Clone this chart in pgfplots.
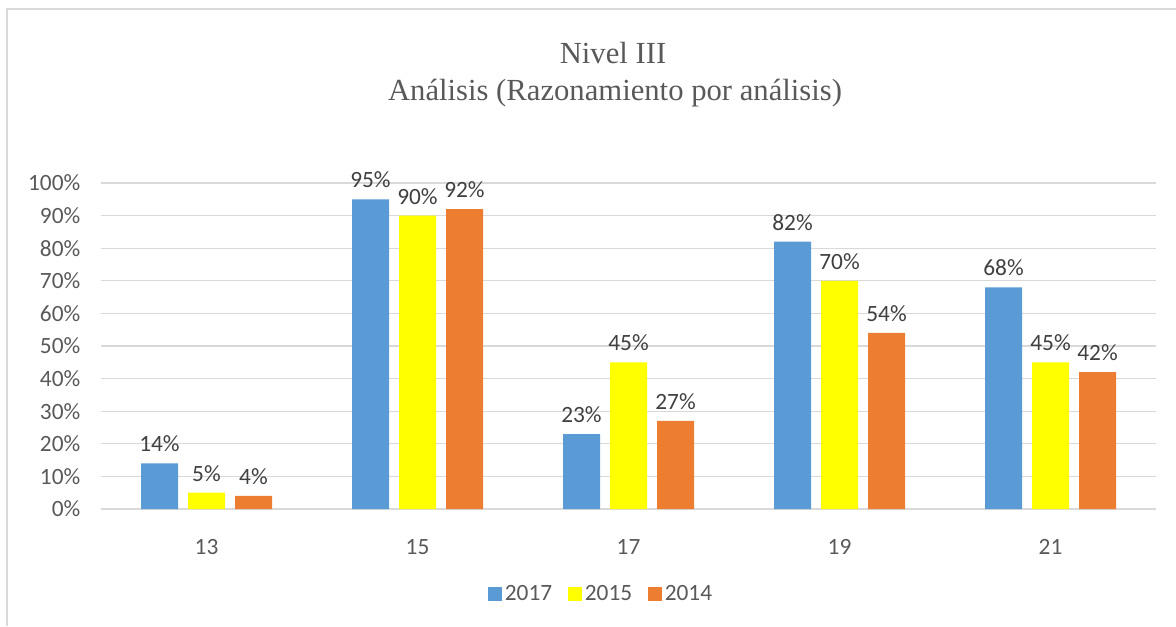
\documentclass[border=0pt]{standalone}
\usepackage{pgfplots}
\pgfplotsset{compat=1.18}
\usepackage{fontspec}
\setmainfont{Carlito}
\newfontfamily\titlefont{Liberation Serif}
\definecolor{cblue}{HTML}{5B9BD5}
\definecolor{cyellow}{HTML}{FFFF00}
\definecolor{corange}{HTML}{ED7D31}
\definecolor{tgray}{HTML}{595959}
\definecolor{dgray}{HTML}{404040}
\definecolor{ggray}{HTML}{D9D9D9}
\begin{document}
\begin{tikzpicture}
\useasboundingbox (0pt,0pt) rectangle (882pt,469.5pt);
\draw[ggray, line width=1.2pt] (5.25pt,0pt) -- (5.25pt,462.75pt) -- (882pt,462.75pt);
\node[anchor=base, text=tgray, font=\titlefont\fontsize{23pt}{27pt}\selectfont] at (459.75pt,421.5pt) {Nivel III};
\node[anchor=base, text=tgray, font=\titlefont\fontsize{23pt}{27pt}\selectfont] at (461.25pt,393.75pt) {Análisis (Razonamiento por análisis)};
\begin{axis}[
  at={(75.75pt,87.75pt)}, anchor=south west,
  scale only axis, width=791.25pt, height=244.5pt,
  xmin=-0.5, xmax=4.5, ymin=0, ymax=100,
  ybar, bar width=27.75pt,
  xtick={0,1,2,3,4}, xticklabels={13,15,17,19,21},
  ytick={0,10,...,100},
  yticklabel={\pgfmathprintnumber{\tick}\%},
  ymajorgrids, grid style={ggray, line width=0.9pt},
  axis line style={draw=none},
  major tick length=0pt,
  tick label style={text=tgray, font=\fontsize{17.5pt}{21pt}\selectfont},
  /pgf/number format/assume math mode=true,
  xticklabel style={yshift=-19pt},
  yticklabel style={xshift=-12pt},
  nodes near coords={\pgfmathprintnumber{\pgfplotspointmeta}\%},
  every node near coord/.append style={text=dgray, font=\fontsize{17.5pt}{21pt}\selectfont, anchor=south, yshift=5pt},
  legend style={draw=none, at={(0.4744,-0.261)}, anchor=center, legend columns=-1,
    font=\fontsize{17.5pt}{21pt}\selectfont, text=tgray,
    /tikz/every even column/.append style={column sep=10pt}},
  legend image code/.code={\fill[#1] (-3pt,-5pt) rectangle (7.5pt,5.5pt);},
  clip=false,
]
\draw[ggray, line width=0.9pt] (axis cs:-0.5,0) -- (axis cs:4.5,0);
\addplot[fill=cblue, draw=none, bar shift=-35.25pt] coordinates {(0,14) (1,95) (2,23) (3,82) (4,68)};
\addplot[fill=cyellow, draw=none, bar shift=0pt] coordinates {(0,5) (1,90) (2,45) (3,70) (4,45)};
\addplot[fill=corange, draw=none, bar shift=35.25pt] coordinates {(0,4) (1,92) (2,27) (3,54) (4,42)};
\legend{2017,2015,2014}
\end{axis}
\end{tikzpicture}
\end{document}
